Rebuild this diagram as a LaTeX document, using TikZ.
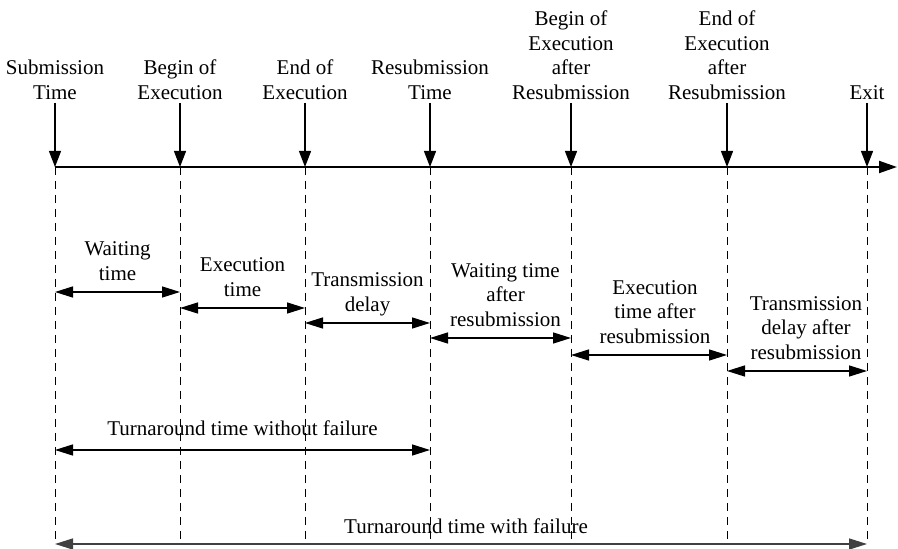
\documentclass[tikz,border=0pt]{standalone}
\usepackage{fontspec}
\setmainfont{Liberation Serif}
\usetikzlibrary{arrows.meta}

\begin{document}
\begin{tikzpicture}[x=0.5pt, y=-0.5pt,
    font=\fontsize{10.5}{12.3}\selectfont,
    axis/.style={line width=1pt, -{Triangle[length=9pt,width=6pt]}},
    tick/.style={line width=0.65pt, -{Triangle[length=8pt,width=6pt]}, shorten <=1.5pt},
    span/.style={line width=0.7pt, {Triangle[length=9pt,width=5.5pt]}-{Triangle[length=9pt,width=5.5pt]}},
    guide/.style={line width=0.4pt, dash pattern=on 4pt off 3pt},
    event/.style={align=center, inner sep=0pt, anchor=south, text depth=0pt},
    phase/.style={align=center, inner sep=0pt, text depth=0pt}]
    \useasboundingbox (0,0) rectangle (898,549);

    % --- time points on the axis ---
    \foreach \n/\x in {sub/55, beg/180, fin/305, res/430, rbeg/571, rfin/727, exit/867} {
        \coordinate (\n) at (\x,167);
        \coordinate (\n-end) at (\x,544);
    }
    \coordinate (axend) at (897,167);

    % Dashed guides
    \foreach \n in {sub,beg,fin,res,rbeg,rfin,exit} \draw[guide] (\n) -- (\n-end);

    % Time axis
    \draw[axis] (sub) -- (axend);

    % --- event labels ---
    \node[event] (lsub) at (55,100) {Submission\\Time};
    \node[event] (lbeg) at (180,100) {Begin of\\Execution};
    \node[event] (lfin) at (305,100) {End of\\Execution};
    \node[event] (lres) at (430,100) {Resubmission\\Time};
    \node[event] (lrbeg) at (571,100) {Begin of\\Execution\\after\\Resubmission};
    \node[event] (lrfin) at (727,100) {End of\\Execution\\after\\Resubmission};
    \node[event] (lexit) at (867,100) {Exit};

    \foreach \n in {sub,beg,fin,res,rbeg,rfin,exit} \draw[tick] (l\n.south) -- (\n);

    % --- phases ---
    \coordinate (r1) at (0,292); \coordinate (r2) at (0,308); \coordinate (r3) at (0,323);
    \coordinate (r4) at (0,338); \coordinate (r5) at (0,355); \coordinate (r6) at (0,371);
    \coordinate (r7) at (0,450); \coordinate (r8) at (0,544);

    \draw[span] (sub |- r1) -- node[phase, above=5.5pt] (pwait) {Waiting\\time} (beg |- r1);
    \draw[span] (beg |- r2) -- node[phase, above=5.5pt] (pexec) {Execution\\time} (fin |- r2);
    \draw[span] (fin |- r3) -- node[phase, above=5.5pt] (ptrans) {Transmission\\delay} (res |- r3);
    \draw[span] (res |- r4) -- node[phase, above=5.5pt, xshift=2.5pt] (prwait) {Waiting time\\after\\resubmission} (rbeg |- r4);
    \draw[span] (rbeg |- r5) -- node[phase, above=5.5pt, xshift=3pt] (prexec) {Execution\\time after\\resubmission} (rfin |- r5);
    \draw[span] (rfin |- r6) -- node[phase, above=5.5pt, xshift=4.5pt] (prtrans) {Transmission\\delay after\\resubmission} (exit |- r6);

    % Turnaround times
    \draw[span] (sub |- r7) -- node[phase, above=7pt] (tnofail) {Turnaround time without failure} (res |- r7);
    \draw[span, black!75] (sub |- r8) -- node[phase, above=5pt, xshift=2.5pt, black] (tfail) {Turnaround time with failure} (exit |- r8);
\end{tikzpicture}
\end{document}
